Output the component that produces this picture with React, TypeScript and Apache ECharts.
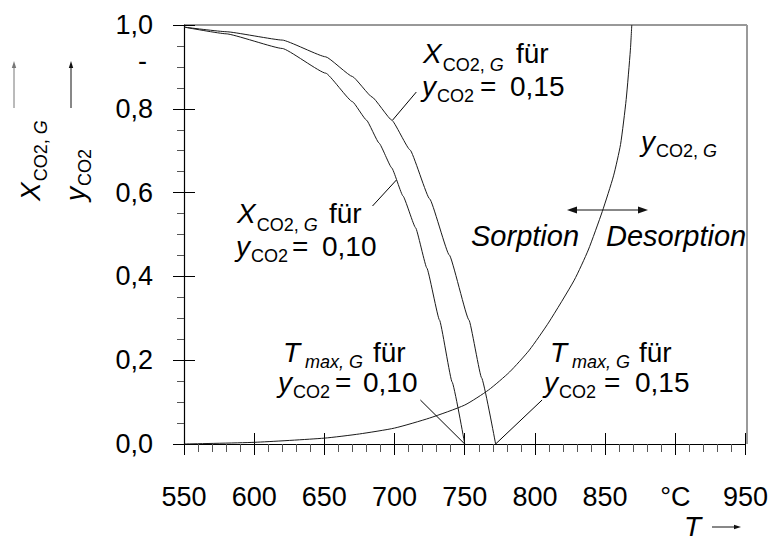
import React, { useEffect, useRef } from 'react';
import * as echarts from 'echarts';

const FONT = 'Liberation Sans';

// Temperature axis in °C; the 900 position carries the unit instead of a number
const T_MIN = 550;
const T_MAX = 950;
const T_STEP = 50;
const T_UNIT_AT = 900;

// Gas-phase CO2 fraction y_CO2,G over T
const tGas = [550, 600, 650, 675, 700, 725, 750, 767, 782, 796, 810, 828, 838, 848, 856, 861, 865, 868, 869];
const yGas = [0, 0.004, 0.014, 0.024, 0.038, 0.062, 0.093, 0.129, 0.172, 0.224, 0.291, 0.391, 0.463, 0.555, 0.64, 0.715, 0.822, 0.94, 1.0];

// Loading X_CO2,G for y_CO2 = 0,15
const tLoad15 = [550, 580, 620, 651, 670, 684, 698, 711, 725, 739, 753, 762, 772];
const xLoad15 = [0.995, 0.984, 0.964, 0.924, 0.877, 0.828, 0.773, 0.702, 0.585, 0.451, 0.296, 0.158, 0];

// Loading X_CO2,G for y_CO2 = 0,10
const tLoad10 = [550, 580, 620, 651, 670, 680, 689, 698, 706, 715, 723, 732, 741, 750];
const xLoad10 = [0.995, 0.979, 0.944, 0.885, 0.817, 0.773, 0.718, 0.659, 0.592, 0.516, 0.42, 0.296, 0.148, 0];

// Maximum temperatures T_max,G
const tMax10 = 750;
const tMax15 = 772;

// Leader lines from the annotations to the curves, as [T, value]
const leaderLoad15 = [[715.5, 0.84], [698.6, 0.773]];
const leaderLoad10 = [[684.3, 0.568], [701.3, 0.63]];
const leaderTmax10 = [[718.4, 0.105], [tMax10, 0]];
const leaderTmax15 = [[805.1, 0.105], [tMax15, 0]];

const pairs = (xs: number[], ys: number[]) => xs.map((x, i) => [x, ys[i]]);

const fontOf = (size: number, italic: boolean) => `${italic ? 'italic ' : ''}${size}px ${FONT}`;

let measureCtx: CanvasRenderingContext2D | null = null;
const measure = (text: string, size: number, italic: boolean) => {
  if (!measureCtx) measureCtx = document.createElement('canvas').getContext('2d');
  if (!measureCtx) return text.length * size * 0.55;
  measureCtx.font = fontOf(size, italic);
  return measureCtx.measureText(text).width;
};

// one text element placed by its left edge and alphabetic baseline
const txt = (text: string, x: number, base: number, size: number, italic = false) => {
  const lh = Math.round(size * 0.85);
  return {
    type: 'text',
    x,
    y: base - 0.35 * size,
    silent: true,
    style: {
      text,
      fontFamily: FONT,
      fontSize: size,
      fontStyle: italic ? 'italic' : 'normal',
      lineHeight: lh,
      fill: '#000',
      textAlign: 'left',
      textVerticalAlign: 'middle',
      align: 'left',
      verticalAlign: 'middle',
      rich: {
        n: { fontFamily: FONT, fontSize: size, fontStyle: 'normal', lineHeight: lh, fill: '#000' },
        i: { fontFamily: FONT, fontSize: size, fontStyle: 'italic', lineHeight: lh, fill: '#000' },
      },
    },
  };
};

// a run of pieces laid out left to right: [text, size, italic, baseline shift, gap before]
type Piece = [string, number, boolean, number, number];
const run = (x: number, base: number, pieces: Piece[]) => {
  const out: any[] = [];
  let cx = x;
  for (const [text, size, italic, dy, gap] of pieces) {
    cx += gap;
    out.push(txt(text, cx, base + dy, size, italic));
    cx += measure(text.replace(/\{[ni]\||\}/g, ''), size, italic);
  }
  return out;
};

const SUB = 18;
const BIG = 28;
const TICK = 27;
// subscript "CO2, G" with an italic G, as one rich text
const SUB_CO2G = '{n|CO2, }{i|G}';
const xSub = (dy: number): Piece[] => [
  ['X', BIG, true, 0, 0],
  [SUB_CO2G, SUB, false, dy, 1],
];
const ySub = (dy: number): Piece[] => [
  ['y', BIG, true, 0, 0],
  ['CO2', SUB, false, dy, 1],
];
const tSub = (dy: number): Piece[] => [
  ['T', BIG, true, 0, 0],
  ['max, G', SUB, true, dy, 5],
];

const seg = (x1: number, y1: number, x2: number, y2: number, color = '#000', width = 1) => ({
  type: 'line',
  silent: true,
  shape: { x1, y1, x2, y2 },
  style: { stroke: color, lineWidth: width },
});

const tri = (points: number[][], color = '#000') => ({
  type: 'polygon',
  silent: true,
  shape: { points },
  style: { fill: color },
});

const curve = (data: number[][], smooth: number | boolean = 0.12, color = '#1a1a1a') => ({
  type: 'line',
  data,
  showSymbol: false,
  smooth,
  smoothMonotone: 'x',
  silent: true,
  lineStyle: { color, width: 1 },
});

const App: React.FC = () => {
  const ref = useRef<HTMLDivElement>(null);

  useEffect(() => {
    if (!ref.current) return;
    const chart = echarts.init(ref.current, undefined, { renderer: 'svg' });

    const xLabel = (v: number) => (v === T_UNIT_AT ? '°C' : String(v));
    const yLabel = (v: number) => v.toFixed(1).replace('.', ',');

    const graphic: any[] = [
      // frame: top edge and grey right edge
      seg(184, 25, 747, 25, '#333', 1),
      seg(747, 25, 747, 444, '#9a9a9a', 2),
      // stray dash at 0,9
      txt('-', 138, 70, TICK),

      // y-axis quantities with arrows
      seg(14, 108, 14, 67, '#777', 1),
      tri([[14, 61], [11.8, 68], [16.2, 68]], '#777'),
      seg(71, 108, 71, 67, '#111', 1),
      tri([[71, 61], [68.8, 68], [73.2, 68]], '#111'),
      { type: 'group', x: 40, y: 201, rotation: Math.PI / 2, children: run(0, 0, xSub(7)) },
      { type: 'group', x: 85, y: 201, rotation: Math.PI / 2, children: run(0, 0, ySub(6)) },

      // T axis quantity
      txt('T', 684, 536, BIG, true),
      seg(712, 527, 736, 527, '#111', 1),
      tri([[741, 527], [734, 524.8], [734, 529.2]], '#111'),

      // X_CO2,G für y_CO2 = 0,15
      ...run(423, 63, xSub(8)),
      txt('für', 516, 63, BIG),
      ...run(422, 96, ySub(6)),
      txt('=', 480, 96, BIG),
      txt('0,15', 510, 96, BIG),

      // X_CO2,G für y_CO2 = 0,10
      ...run(237, 223, xSub(8)),
      txt('für', 329, 223, BIG),
      ...run(236, 256, ySub(6)),
      txt('=', 292, 256, BIG),
      txt('0,10', 322, 256, BIG),

      // T_max,G für y_CO2 = 0,10
      ...run(283, 362, tSub(6)),
      txt('für', 373, 362, BIG),
      ...run(278, 392, ySub(6)),
      txt('=', 335, 392, BIG),
      txt('0,10', 363, 392, BIG),

      // T_max,G für y_CO2 = 0,15
      ...run(550, 362, tSub(6)),
      txt('für', 639, 362, BIG),
      ...run(544, 392, ySub(6)),
      txt('=', 604, 392, BIG),
      txt('0,15', 635, 392, BIG),

      // y_CO2,G curve label
      ...run(641, 151, [
        ['y', BIG, true, 0, 0],
        [SUB_CO2G, SUB, false, 6, 1],
      ]),

      // Sorption / Desorption
      seg(574, 210, 641, 210, '#111', 1),
      tri([[567, 210], [577, 206.5], [577, 213.5]], '#111'),
      tri([[648, 210], [638, 206.5], [638, 213.5]], '#111'),
      txt('Sorption', 471, 246, 29, true),
      txt('Desorption', 606, 246, 29, true),
    ];

    chart.setOption({
      animation: false,
      backgroundColor: '#fff',
      textStyle: { fontFamily: FONT },
      grid: { left: 184, right: 24, top: 25, bottom: 98, containLabel: false },
      xAxis: [
        {
          type: 'value',
          min: T_MIN,
          max: T_MAX,
          interval: T_STEP,
          position: 'bottom',
          axisLine: { onZero: false, lineStyle: { color: '#000', width: 1.2 } },
          axisTick: { show: true, length: 11, lineStyle: { color: '#000', width: 1 } },
          minorTick: { show: true, splitNumber: 5, length: 8, lineStyle: { color: '#555', width: 1 } },
          splitLine: { show: false },
          axisLabel: { margin: 39, color: '#000', fontFamily: FONT, fontSize: TICK, formatter: xLabel },
        },
        {
          type: 'value',
          min: T_MIN,
          max: T_MAX,
          interval: T_STEP,
          position: 'bottom',
          axisLine: { show: false, onZero: false },
          axisTick: { show: true, inside: true, length: 11, lineStyle: { color: '#000', width: 1 } },
          splitLine: { show: false },
          axisLabel: { show: false },
        },
      ],
      yAxis: [
        {
          type: 'value',
          min: 0,
          max: 1,
          interval: 0.2,
          position: 'left',
          axisLine: { show: true, onZero: false, lineStyle: { color: '#000', width: 1.2 } },
          axisTick: { show: true, length: 11, lineStyle: { color: '#000', width: 1 } },
          minorTick: { show: true, splitNumber: 4, length: 7, lineStyle: { color: '#555', width: 1 } },
          splitLine: { show: false },
          axisLabel: { margin: 31, color: '#000', fontFamily: FONT, fontSize: TICK, formatter: yLabel },
        },
        {
          type: 'value',
          min: 0,
          max: 1,
          interval: 0.2,
          position: 'left',
          axisLine: { show: false, onZero: false },
          axisTick: { show: true, inside: true, length: 11, lineStyle: { color: '#000', width: 1 } },
          splitLine: { show: false },
          axisLabel: { show: false },
        },
      ],
      series: [
        { ...curve(pairs(tGas, yGas), 0.2), smoothMonotone: undefined },
        curve(pairs(tLoad15, xLoad15)),
        curve(pairs(tLoad10, xLoad10)),
        curve(leaderLoad15, false, '#000'),
        curve(leaderLoad10, false, '#000'),
        curve(leaderTmax10, false, '#000'),
        curve(leaderTmax15, false, '#000'),
      ],
      graphic,
    });

    return () => chart.dispose();
  }, []);

  return (
    <div
      ref={ref}
      style={{ position: 'absolute', left: 0, top: 0, width: 771, height: 542, background: '#fff' }}
    />
  );
};

export default App;
